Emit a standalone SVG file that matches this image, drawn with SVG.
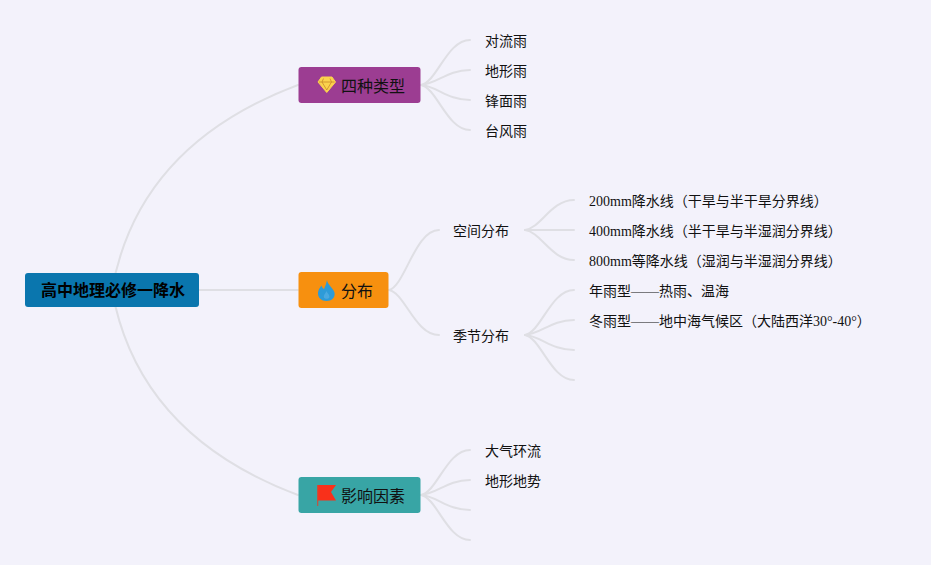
<svg xmlns="http://www.w3.org/2000/svg" width="931" height="565" viewBox="0 0 931 565">
<style>
text{font-family:"Liberation Serif","Noto Sans CJK SC",serif;fill:#111}
.leaf{font-size:14px}
.branch{font-size:16px}
.root{font-size:16px;font-weight:700;fill:#000}
#connectors path{fill:none;stroke:#dfdfe4;stroke-width:2;stroke-linecap:round}
</style>
<rect width="931" height="565" fill="#f3f2fb"/>
<g id="connectors">
<path d="M112 290Q138 145 298 85"/>
<path d="M112 290Q138 435 298 495"/>
<path d="M199 290H298"/>
<path d="M421 85C437 82 447 40 470 40"/>
<path d="M421 85C437 84 447 70 470 70"/>
<path d="M421 85C437 86 447 100 470 100"/>
<path d="M421 85C437 88 447 130 470 130"/>
<path d="M389 290C405 286 415 230 439 230"/>
<path d="M389 290C405 293 415 335 439 335"/>
<path d="M525 230C541 228 551 200 574 200"/>
<path d="M525 230H574"/>
<path d="M525 230C541 232 551 260 574 260"/>
<path d="M525 335C541 332 551 290 574 290"/>
<path d="M525 335C541 334 551 320 574 320"/>
<path d="M525 335C541 336 551 350 574 350"/>
<path d="M525 335C541 338 551 380 574 380"/>
<path d="M421 495C437 492 447 450 470 450"/>
<path d="M421 495C437 494 447 480 470 480"/>
<path d="M421 495C437 496 447 510 470 510"/>
<path d="M421 495C437 498 447 540 470 540"/>
</g>
<g id="root"><rect x="25" y="273" width="174" height="34" rx="3" fill="#0a76ae"/><text class="root" x="41" y="296">高中地理必修一降水</text></g>
<g id="n-types"><rect x="298.500" y="67" width="122" height="36" rx="3" fill="#9c3d92"/>
<path d="M321.500 77H332L335.500 82L326.750 92.500L318 82Z" fill="#fbd34d" stroke="#fbd34d"/><path d="M319 82H334.500M323.500 78.500L322 82L326.750 90L331.500 82L330 78.500" fill="none" stroke="#c98a2a" stroke-width=".8"/>
<text class="branch" x="341" y="92">四种类型</text></g>
<g id="n-dist"><rect x="298.500" y="272" width="90" height="36" rx="3" fill="#f7900f"/>
<path d="M327 280C327.500 285 333 287.500 334.500 292.500C335.500 297.500 331.500 301 326.500 301C321.500 301 317.500 297.500 318 292.500C318.300 289.500 320 287.500 321.500 285.500C322 287.500 323 288.500 324 289C325.500 286 326.500 283 327 280Z" fill="#2d9bd8"/>
<path d="M326.500 291C327.500 293.500 330 295 329.300 297.500C328.600 299.300 324.700 299.300 324 297.500C323.300 295 325.500 293.500 326.500 291Z" fill="#4aa9e0"/>
<text class="branch" x="341" y="297">分布</text></g>
<g id="n-factors"><rect x="298.500" y="477" width="122" height="36" rx="3" fill="#38a5a5"/>
<path d="M317.500 485H336L331 492L336 500.500H317.500Z" fill="#f9301a"/><path d="M317.700 485V506" stroke="#c8503c" stroke-width="1.200"/>
<text class="branch" x="341" y="502">影响因素</text></g>
<g id="l-1"><text class="leaf" x="485" y="46">对流雨</text></g>
<g id="l-2"><text class="leaf" x="485" y="76">地形雨</text></g>
<g id="l-3"><text class="leaf" x="485" y="106">锋面雨</text></g>
<g id="l-4"><text class="leaf" x="485" y="136">台风雨</text></g>
<g id="s-1"><text class="leaf" x="453" y="236">空间分布</text></g>
<g id="s-2"><text class="leaf" x="453" y="341">季节分布</text></g>
<g id="d-1"><text class="leaf" x="589" y="206">200mm降水线（干旱与半干旱分界线）</text></g>
<g id="d-2"><text class="leaf" x="589" y="236">400mm降水线（半干旱与半湿润分界线）</text></g>
<g id="d-3"><text class="leaf" x="589" y="266">800mm等降水线（湿润与半湿润分界线）</text></g>
<g id="d-4"><text class="leaf" x="589" y="296">年雨型——热雨、温海</text></g>
<g id="d-5"><text class="leaf" x="589" y="326">冬雨型——地中海气候区（大陆西洋30°-40°）</text></g>
<g id="f-1"><text class="leaf" x="485" y="456">大气环流</text></g>
<g id="f-2"><text class="leaf" x="485" y="486">地形地势</text></g>
</svg>
